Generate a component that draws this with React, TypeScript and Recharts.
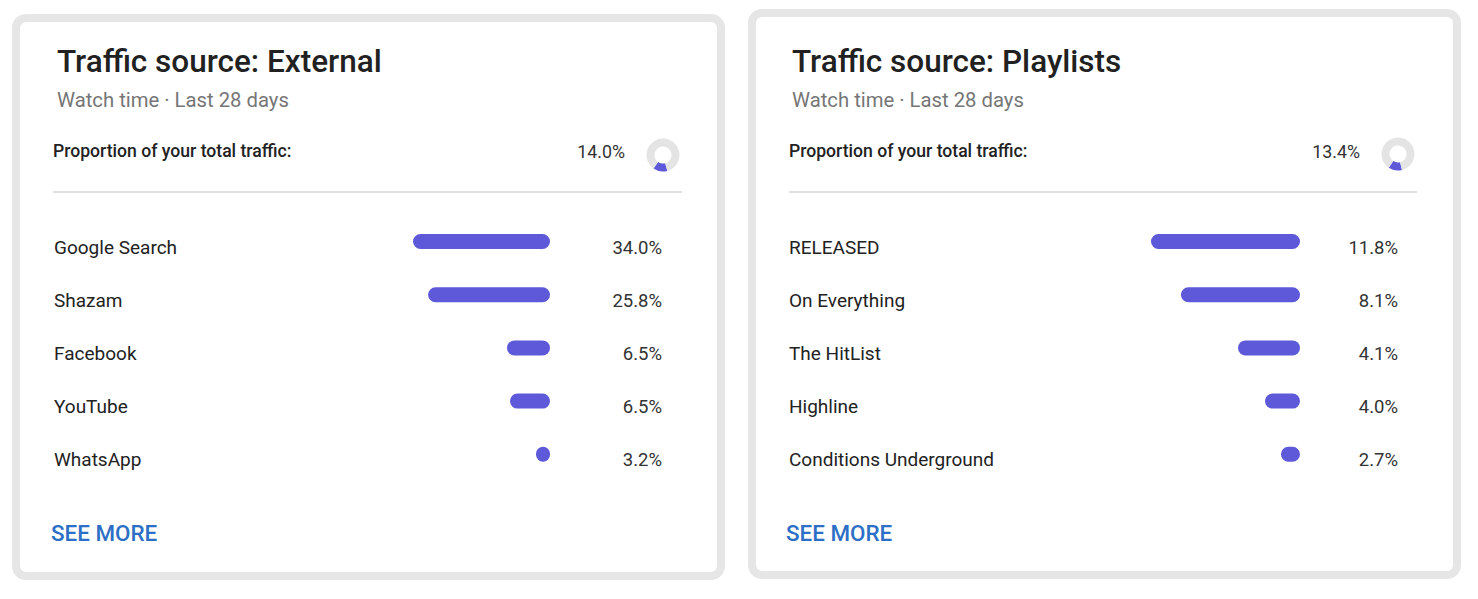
import React from 'react';
import { BarChart, Bar, XAxis, YAxis, PieChart, Pie, Cell } from 'recharts';

// ---------- data ----------
const externalSources = ['Google Search', 'Shazam', 'Facebook', 'YouTube', 'WhatsApp'];
const externalShare = [34.0, 25.8, 6.5, 6.5, 3.2];
// relative bar lengths as drawn (longest bar = 100)
const externalBar = [100, 89, 31.4, 29.2, 10.2];
const externalTotal = 14.0;

const playlistSources = ['RELEASED', 'On Everything', 'The HitList', 'Highline', 'Conditions Underground'];
const playlistShare = [11.8, 8.1, 4.1, 4.0, 2.7];
const playlistBar = [100, 79.9, 41.6, 23.5, 12.8];
const playlistTotal = 13.4;

const PURPLE = '#5d59d8';
const FONT = 'Roboto, "Noto Sans", sans-serif';

type CardProps = {
  title: string;
  total: number;
  names: string[];
  shares: number[];
  bars: number[];
  card: { left: number; top: number; width: number; height: number };
  textX: number;
  propX: number;
  totalRight: number;
  donutX: number;
  donutY: number;
  divider: { left: number; right: number };
  labelX: number;
  plotLeft: number;
  plotRight: number;
  pctRight: number;
  seeMoreX: number;
};

function SourceBars(p: CardProps) {
  const chartLeft = p.labelX - 14;
  const chartRight = p.pctRight + 14;
  const width = chartRight - chartLeft;
  const rows = p.names.map((n, i) => ({ name: n, bar: p.bars[i], share: p.shares[i] }));
  const Tick = (tp: any) => {
    const idx = p.names.indexOf(tp.payload.value);
    return (
      <g>
        <text x={p.labelX - chartLeft} y={tp.y + 12} fontSize={19} fill="#222" fontFamily={FONT} textAnchor="start">
          {tp.payload.value}
        </text>
        <text x={p.pctRight - chartLeft} y={tp.y + 12} fontSize={18.5} fill="#333" fontFamily={FONT} textAnchor="end">
          {p.shares[idx].toFixed(1) + '%'}
        </text>
      </g>
    );
  };
  return (
    <div style={{ position: 'absolute', left: chartLeft, top: 215 }}>
      <BarChart
        width={width}
        height={266}
        data={rows}
        layout="vertical"
        margin={{ top: 0, right: chartRight - p.plotRight, bottom: 0, left: 0 }}
      >
        <XAxis type="number" dataKey="bar" domain={[0, 100]} reversed hide />
        <YAxis
          type="category"
          dataKey="name"
          width={p.plotLeft - chartLeft}
          axisLine={false}
          tickLine={false}
          tick={Tick}
          interval={0}
        />
        <Bar dataKey="bar" fill={PURPLE} barSize={15} radius={8} isAnimationActive={false} />
      </BarChart>
    </div>
  );
}

function Donut({ x, y, value }: { x: number; y: number; value: number }) {
  const d = [{ v: value }, { v: 100 - value }];
  const span = (value / 100) * 360;
  const start = -100 + span / 2;
  return (
    <div style={{ position: 'absolute', left: x - 20, top: y - 20 }}>
      <PieChart width={40} height={40} margin={{ top: 0, right: 0, bottom: 0, left: 0 }}>
        <Pie
          data={d}
          dataKey="v"
          cx="50%"
          cy="50%"
          innerRadius={8.5}
          outerRadius={16.5}
          startAngle={start}
          endAngle={start - 360}
          stroke="none"
          isAnimationActive={false}
        >
          <Cell fill={PURPLE} />
          <Cell fill="#e4e4e4" />
        </Pie>
      </PieChart>
    </div>
  );
}

function Card(p: CardProps) {
  return (
    <>
      <div
        style={{
          position: 'absolute',
          left: p.card.left,
          top: p.card.top,
          width: p.card.width,
          height: p.card.height,
          boxSizing: 'border-box',
          border: '8.5px solid #e6e6e6',
          borderRadius: 14,
          background: '#fff',
        }}
      />
      <div style={{ position: 'absolute', left: p.textX, top: 46, fontSize: 31.5, fontWeight: 500, lineHeight: 1, color: '#212121', whiteSpace: 'nowrap' }}>
        {p.title}
      </div>
      <div style={{ position: 'absolute', left: p.textX, top: 90, fontSize: 20.3, lineHeight: 1, color: '#767676', whiteSpace: 'nowrap' }}>
        Watch time · Last 28 days
      </div>
      <div style={{ position: 'absolute', left: p.propX, top: 143, fontSize: 17.6, fontWeight: 500, lineHeight: 1, color: '#222', whiteSpace: 'nowrap' }}>
        Proportion of your total traffic:
      </div>
      <div style={{ position: 'absolute', left: p.totalRight - 100, width: 100, textAlign: 'right', top: 143, fontSize: 17.8, lineHeight: 1, color: '#333' }}>
        {p.total.toFixed(1) + '%'}
      </div>
      <Donut x={p.donutX} y={p.donutY} value={p.total} />
      <div style={{ position: 'absolute', left: p.divider.left, top: 191, width: p.divider.right - p.divider.left, height: 1.5, background: '#e0e0e0' }} />
      <SourceBars {...p} />
      <div style={{ position: 'absolute', left: p.seeMoreX, top: 522, fontSize: 22.4, fontWeight: 500, lineHeight: 1, color: '#2d6fc6', whiteSpace: 'nowrap' }}>
        SEE MORE
      </div>
    </>
  );
}

export default function App() {
  return (
    <div style={{ position: 'absolute', left: 0, top: 0, width: 1478, height: 599, background: '#fff', fontFamily: FONT, overflow: 'hidden' }}>
      <Card
        title="Traffic source: External"
        total={externalTotal}
        names={externalSources}
        shares={externalShare}
        bars={externalBar}
        card={{ left: 12, top: 14, width: 713, height: 566 }}
        textX={57}
        propX={53}
        totalRight={625}
        donutX={663}
        donutY={155}
        divider={{ left: 53, right: 682 }}
        labelX={54}
        plotLeft={413}
        plotRight={550}
        pctRight={662}
        seeMoreX={51}
      />
      <Card
        title="Traffic source: Playlists"
        total={playlistTotal}
        names={playlistSources}
        shares={playlistShare}
        bars={playlistBar}
        card={{ left: 748, top: 9, width: 713, height: 570 }}
        textX={792}
        propX={789}
        totalRight={1360}
        donutX={1398}
        donutY={154}
        divider={{ left: 789, right: 1417 }}
        labelX={789}
        plotLeft={1151}
        plotRight={1300}
        pctRight={1398}
        seeMoreX={786}
      />
    </div>
  );
}
